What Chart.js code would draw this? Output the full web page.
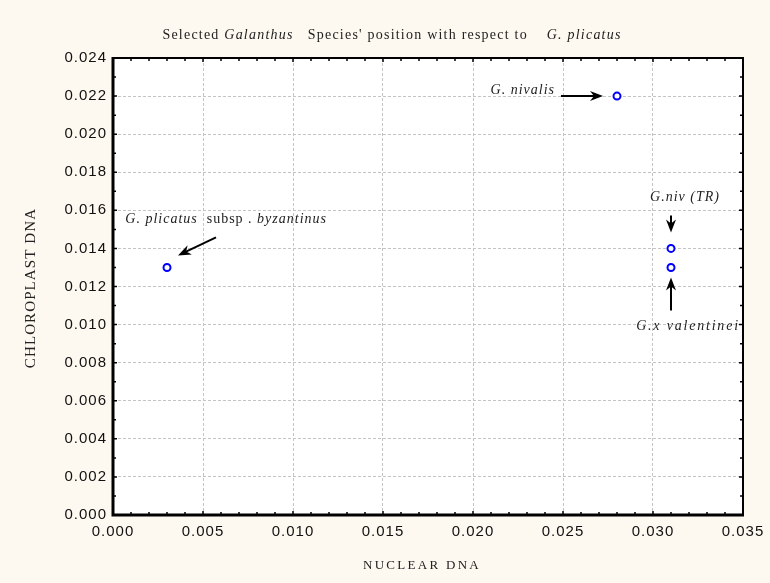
<!DOCTYPE html>
<html>
<head>
<meta charset="utf-8">
<script src="https://cdn.jsdelivr.net/npm/chart.js@4.4.1/dist/chart.umd.min.js"></script>
<style>
  html, body { margin: 0; padding: 0; background: #fdf9f0; }
  #wrap { width: 770px; height: 583px; }
</style>
</head>
<body>
<div id="wrap"><canvas id="scatter"></canvas></div>
<script>
// data
var species = ['G. plicatus subsp. byzantinus', 'G. nivalis', 'G.niv (TR)', 'G.x valentinei'];
var nuclearDNA = [0.003, 0.028, 0.031, 0.031];
var chloroplastDNA = [0.013, 0.022, 0.014, 0.013];
var xTicks = [0, 0.005, 0.010, 0.015, 0.020, 0.025, 0.030, 0.035];
var yTicks = [0, 0.002, 0.004, 0.006, 0.008, 0.010, 0.012, 0.014, 0.016, 0.018, 0.020, 0.022, 0.024];

var serif = '"Liberation Serif", "Times New Roman", serif';

// labels + arrows next to each point (pixel offsets from the point)
var notes = [
  { parts: [['G. plicatus', true], ['  subsp . ', false], ['byzantinus', true]], align: 'right', dx: 160, dy: -48, sp: 1, arrow: [49, -30, 11, -12] },
  { parts: [['G. nivalis', true]], align: 'right', dx: -62, dy: -6, sp: 1, arrow: [-56, 0, -14, 0] },
  { parts: [['G.niv (TR)', true]], align: 'center', dx: 14, dy: -51, sp: 1, arrow: [0, -33, 0, -16] },
  { parts: [['G.x valentinei', true]], align: 'center', dx: 17, dy: 59, sp: 1.8, arrow: [0, 43, 0, 10] }
];

function drawParts(ctx, parts, x, y, align, size, spacing) {
  ctx.letterSpacing = spacing + 'px';
  var widths = parts.map(function(p) {
    ctx.font = (p[1] ? 'italic ' : '') + size + 'px ' + serif;
    return ctx.measureText(p[0]).width;
  });
  var total = widths.reduce(function(a, b) { return a + b; }, 0);
  var sx = align === 'left' ? x : (align === 'right' ? x - total : x - total / 2);
  ctx.textAlign = 'left';
  ctx.textBaseline = 'middle';
  parts.forEach(function(p, i) {
    ctx.font = (p[1] ? 'italic ' : '') + size + 'px ' + serif;
    ctx.fillText(p[0], sx, y);
    sx += widths[i];
  });
  ctx.letterSpacing = '0px';
}

function arrow(ctx, x1, y1, x2, y2) {
  var a = Math.atan2(y2 - y1, x2 - x1);
  ctx.save();
  ctx.strokeStyle = '#000';
  ctx.fillStyle = '#000';
  ctx.lineWidth = 2;
  ctx.beginPath();
  ctx.moveTo(x1, y1);
  ctx.lineTo(x2 - 6 * Math.cos(a), y2 - 6 * Math.sin(a));
  ctx.stroke();
  ctx.translate(x2, y2);
  ctx.rotate(a);
  ctx.beginPath();
  ctx.moveTo(0, 0);
  ctx.lineTo(-13, -5);
  ctx.lineTo(-9, 0);
  ctx.lineTo(-13, 5);
  ctx.closePath();
  ctx.fill();
  ctx.restore();
}

var frame = {
  id: 'frame',
  beforeDraw: function(chart) {
    var ctx = chart.ctx, a = chart.chartArea;
    ctx.save();
    ctx.fillStyle = '#fdf9f0';
    ctx.fillRect(0, 0, chart.width, chart.height);
    ctx.fillStyle = '#ffffff';
    ctx.fillRect(a.left, a.top, a.right - a.left, a.bottom - a.top);
    ctx.restore();
    ctx.letterSpacing = '1px';
  },
  afterDatasetsDraw: function(chart) {
    var ctx = chart.ctx, a = chart.chartArea;
    var xs = chart.scales.x, ys = chart.scales.y;
    ctx.save();
    ctx.letterSpacing = '0px';
    ctx.strokeStyle = '#000';
    // minor / major ticks pointing inward
    ctx.lineWidth = 1.5;
    ctx.beginPath();
    for (var i = 0; i <= 35; i++) {
      var px = xs.getPixelForValue(i * 0.001);
      var len = i % 5 === 0 ? 4 : 3;
      ctx.moveTo(px, a.bottom); ctx.lineTo(px, a.bottom - len);
      ctx.moveTo(px, a.top); ctx.lineTo(px, a.top + len);
    }
    for (var j = 0; j <= 24; j++) {
      var py = ys.getPixelForValue(j * 0.001);
      var l2 = j % 2 === 0 ? 4 : 3;
      ctx.moveTo(a.left, py); ctx.lineTo(a.left + l2, py);
      ctx.moveTo(a.right, py); ctx.lineTo(a.right - l2, py);
    }
    ctx.stroke();
    // frame
    ctx.lineWidth = 2;
    ctx.beginPath();
    ctx.moveTo(a.left, a.top); ctx.lineTo(a.right, a.top); ctx.lineTo(a.right, a.bottom);
    ctx.stroke();
    ctx.lineWidth = 3;
    ctx.beginPath();
    ctx.moveTo(a.left, a.top - 1); ctx.lineTo(a.left, a.bottom); ctx.lineTo(a.right + 1, a.bottom);
    ctx.stroke();

    // notes
    ctx.fillStyle = '#222';
    notes.forEach(function(n, k) {
      var px = xs.getPixelForValue(nuclearDNA[k]);
      var py = ys.getPixelForValue(chloroplastDNA[k]);
      drawParts(ctx, n.parts, px + n.dx, py + n.dy, n.align, 14, n.sp);
      arrow(ctx, px + n.arrow[0], py + n.arrow[1], px + n.arrow[2], py + n.arrow[3]);
    });

    // title
    ctx.fillStyle = '#222';
    drawParts(ctx, [['Selected ', false], ['Galanthus', true], ['   Species\' position with respect to    ', false], ['G. plicatus', true]], 392, 35, 'center', 14, 1.22);
    // axis titles
    drawParts(ctx, [['NUCLEAR DNA', false]], 422, 566, 'center', 13, 2.3);
    ctx.translate(31, 288);
    ctx.rotate(-Math.PI / 2);
    drawParts(ctx, [['CHLOROPLAST DNA', false]], 0, 0, 'center', 15, 1.1);
    ctx.restore();
  }
};

function maakGrafiek() {
  var ctx = document.getElementById('scatter');
  var points = nuclearDNA.map(function(v, i) { return { x: v, y: chloroplastDNA[i] }; });
  new Chart(ctx, {
    type: 'scatter',
    data: {
      labels: species,
      datasets: [{
        data: points,
        pointRadius: 3.5,
        pointHoverRadius: 3.5,
        borderWidth: 2,
        borderColor: '#0000ff',
        backgroundColor: '#ffffff'
      }]
    },
    options: {
      responsive: true,
      maintainAspectRatio: false,
      animation: false,
      layout: { padding: { top: 58, right: 27, left: 0, bottom: 0 } },
      scales: {
        x: {
          type: 'linear',
          min: 0,
          max: 0.035,
          afterBuildTicks: function(s) { s.ticks = xTicks.map(function(v) { return { value: v }; }); },
          afterFit: function(s) { s.height = 68; },
          ticks: {
            color: '#111',
            font: { family: '"Liberation Sans", Arial, sans-serif', size: 15 },
            padding: 8,
            maxRotation: 0,
            callback: function(v) { return Number(v).toFixed(3); }
          },
          grid: { color: '#c4c4c4', lineWidth: 1, drawTicks: false },
          border: { display: false, dash: [3, 2] }
        },
        y: {
          type: 'linear',
          min: 0,
          max: 0.024,
          afterBuildTicks: function(s) { s.ticks = yTicks.map(function(v) { return { value: v }; }); },
          afterFit: function(s) { s.width = 113; },
          ticks: {
            color: '#111',
            font: { family: '"Liberation Sans", Arial, sans-serif', size: 15 },
            padding: 6,
            callback: function(v) { return Number(v).toFixed(3); }
          },
          grid: { color: '#c4c4c4', lineWidth: 1, drawTicks: false },
          border: { display: false, dash: [3, 2] }
        }
      },
      plugins: {
        legend: { display: false },
        tooltip: { enabled: false }
      }
    },
    plugins: [frame]
  });
}

window.onload = function() {
  maakGrafiek();
};
</script>
</body>
</html>
